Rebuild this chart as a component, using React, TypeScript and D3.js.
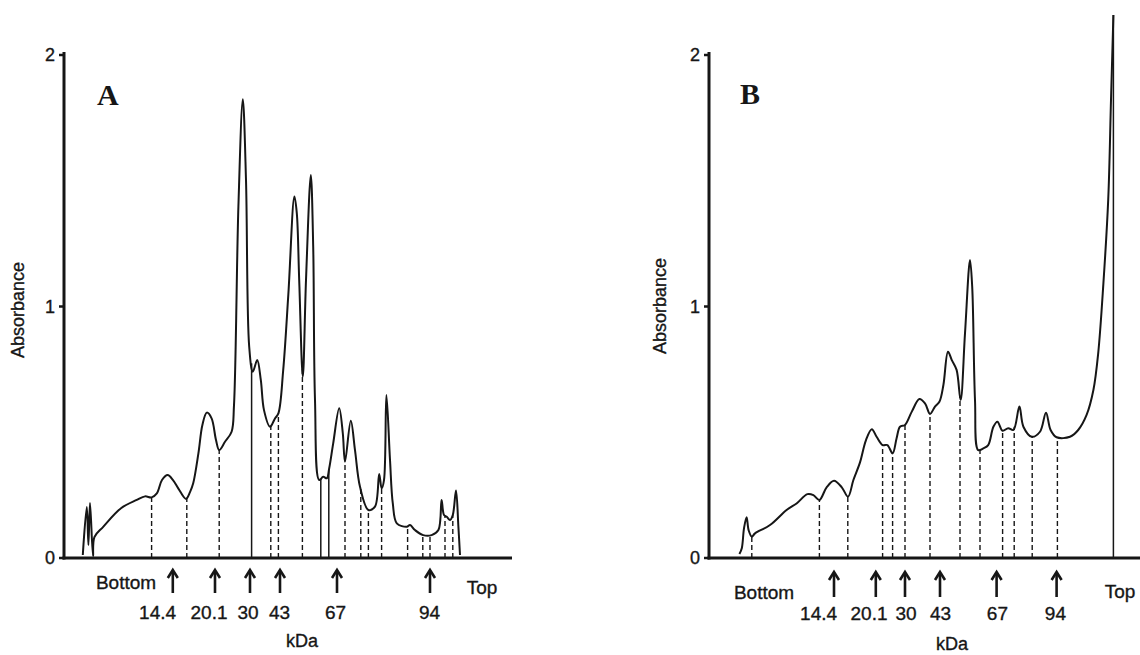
import React from 'react';
import * as d3 from 'd3';

// ---- Panel A trace (position along gel in mm, absorbance) ----
const aPos = [4.7, 5.7, 6.1, 6.5, 7.25, 7.6, 9.8, 14.25, 18.2, 20.25, 21.9, 23.2, 24.5, 25.9, 27.25, 28.6, 30.5, 31.5, 32.3, 33.6, 34.6, 35.7, 36.9, 38, 38.8, 40.25, 41.9, 42.5, 43.6, 44.7, 45.5, 46.3, 47.2, 48.3, 49.2, 50, 51.5, 52.75, 53.6, 54.8, 56.1, 57.6, 58.2, 58.8, 59.7, 60.5, 61.7, 62.3, 62.75, 63.8, 64.8, 65.7, 66.3, 67.3, 68.8, 69.7, 70.25, 71.7, 72.75, 74, 76.1, 77.75, 78.8, 79.4, 80, 80.6, 81.5, 82.2, 83.2, 85.7, 86.5, 87.75, 89.8, 91.9, 93.6, 94.4, 95, 95.7, 96.5, 97.2, 98, 98.6, 99];
const aAbs = [0.012, 0.203, 0.052, 0.219, 0.008, 0.083, 0.124, 0.198, 0.231, 0.245, 0.241, 0.257, 0.31, 0.33, 0.31, 0.276, 0.235, 0.262, 0.297, 0.416, 0.529, 0.578, 0.555, 0.469, 0.429, 0.462, 0.502, 0.608, 1.397, 1.824, 1.503, 0.84, 0.741, 0.787, 0.708, 0.588, 0.522, 0.555, 0.575, 0.747, 1.052, 1.437, 1.371, 1.105, 0.721, 1.105, 1.523, 1.238, 0.628, 0.31, 0.323, 0.317, 0.357, 0.456, 0.595, 0.496, 0.383, 0.546, 0.429, 0.283, 0.191, 0.204, 0.334, 0.277, 0.31, 0.648, 0.39, 0.217, 0.138, 0.124, 0.131, 0.111, 0.091, 0.091, 0.111, 0.231, 0.171, 0.164, 0.151, 0.171, 0.268, 0.124, 0.012];
const aDrops = [21.9, 30.7, 38.8, 46.9, 51.7, 53.6, 59.6, 64.2, 66.2, 70.25, 74.2, 76.1, 79.4, 85.9, 89.7, 91.5, 95.25, 97.2];
const aSolidDrops = [46.9, 64.2, 66.2];
const aMarkers = [27.2, 37.75, 46.5, 54, 68.25, 91.5];
const aLabelPos = [23.4, 36.25, 46, 53.9, 67.9, 91.4];
const aEnds = [15.5, 104.5];

// ---- Panel B trace ----
const bPos = [7.6, 8.2, 8.75, 9.4, 9.9, 10.7, 11.5, 15.25, 19.4, 21.9, 24.6, 26.1, 27.6, 29.4, 31.25, 33.2, 34.75, 36.1, 37.75, 39.25, 40.7, 41.9, 43.4, 44.6, 45.9, 46.9, 47.75, 49, 50.7, 52.6, 54, 55.25, 56.5, 57.6, 58.6, 59.75, 60.7, 61.9, 62.9, 64, 65.25, 65.8, 66.5, 67.3, 68.6, 69.8, 71.1, 72.1, 73.4, 74.8, 76.1, 77.6, 78.6, 80.7, 82.75, 84.25, 85.4, 86.9, 90.25, 92.3, 94.4, 96.1, 97.3, 98.6, 99.8, 100.5, 101.1];
const bAbs = [0.016, 0.039, 0.118, 0.162, 0.111, 0.085, 0.098, 0.131, 0.191, 0.217, 0.254, 0.25, 0.231, 0.281, 0.307, 0.281, 0.244, 0.31, 0.38, 0.469, 0.512, 0.482, 0.449, 0.449, 0.416, 0.476, 0.522, 0.529, 0.582, 0.632, 0.615, 0.573, 0.602, 0.621, 0.688, 0.82, 0.787, 0.748, 0.628, 0.893, 1.185, 1.079, 0.628, 0.429, 0.436, 0.449, 0.522, 0.542, 0.506, 0.516, 0.509, 0.602, 0.522, 0.482, 0.502, 0.578, 0.509, 0.48, 0.482, 0.509, 0.569, 0.668, 0.814, 1.092, 1.423, 1.821, 2.159];
const bDrops = [10.7, 27.6, 34.7, 43.4, 45.9, 49, 55.25, 62.75, 67.75, 73.4, 76.3, 80.8, 87.1, 101.1];
const bSolidDrops = [101.1];
const bMarkers = [31.25, 41.7, 49, 57.75, 71.9, 86.9];
const bLabelPos = [27.4, 40, 49.25, 57.9, 72.1, 86.6];
const bEnds = [13.75, 102.75];

const markerLabels = ['14.4', '20.1', '30', '43', '67', '94'];
const yTicks = [0, 1, 2];
const endLabels = ['Bottom', 'Top'];

const SANS = '"Liberation Sans", Arial, Helvetica, sans-serif';
const SERIF = '"Liberation Serif", "Times New Roman", serif';

function interp(xs: number[], ys: number[], x: number) {
  if (x <= xs[0]) return ys[0];
  for (let i = 1; i < xs.length; i++) {
    if (x <= xs[i]) {
      const t = (x - xs[i - 1]) / (xs[i] - xs[i - 1] || 1);
      return ys[i - 1] + t * (ys[i] - ys[i - 1]);
    }
  }
  return ys[ys.length - 1];
}

type PanelProps = {
  letter: string;
  pos: number[];
  abs: number[];
  drops: number[];
  solidDrops: number[];
  markers: number[];
  labelPos: number[];
  ends: number[];
  xDomainMax: number;
  x0: number;
  x1: number;
  endY: number[];
  numY: number;
  kdaY: number;
  kdaPos: number;
  arrowTop: number;
  arrowBot: number;
  titleX: number;
  titleY: number;
  letterPos: number;
  letterY: number;
};

function Panel(p: PanelProps) {
  const x = d3.scaleLinear().domain([0, p.xDomainMax]).range([p.x0, p.x1]);
  const y = d3.scaleLinear().domain([0, 2]).range([558, 55]);
  const pts: [number, number][] = p.pos.map((v, i) => [v, p.abs[i]]);
  const line = d3
    .line<[number, number]>()
    .x((d) => x(d[0]))
    .y((d) => y(d[1]))
    .curve(d3.curveCatmullRom.alpha(0.5));
  const ink = '#161616';
  const txt = { fontFamily: SANS, fill: ink, stroke: ink, strokeWidth: 0.35 };
  return (
    <g>
      {/* curve */}
      <path d={line(pts) || ''} fill="none" stroke={ink} strokeWidth={2} strokeLinejoin="round" />
      {/* drop lines */}
      {p.drops.map((d, i) => {
        const solid = p.solidDrops.includes(d);
        return (
          <line
            key={'d' + i}
            x1={x(d)}
            x2={x(d)}
            y1={y(0)}
            y2={y(interp(p.pos, p.abs, d))}
            stroke={ink}
            strokeWidth={solid ? 1.5 : 1.4}
            strokeDasharray={solid ? undefined : '5,3'}
          />
        );
      })}
      {/* axes */}
      <line x1={x(0)} x2={x(0)} y1={y(0) + 1.5} y2={y(2) - 3} stroke={ink} strokeWidth={3} />
      <line x1={x(0) - 1.5} x2={p.x1} y1={y(0)} y2={y(0)} stroke={ink} strokeWidth={3} />
      {yTicks.map((t) => (
        <g key={'t' + t}>
          <line x1={x(0) - 5} x2={x(0)} y1={y(t)} y2={y(t)} stroke={ink} strokeWidth={2.5} />
          <text x={x(0) - 9} y={y(t) + 6} textAnchor="end" fontSize={18} {...txt}>
            {t}
          </text>
        </g>
      ))}
      {/* panel letter */}
      <text x={x(p.letterPos)} y={p.letterY} fontFamily={SERIF} fontWeight={700} fontSize={30} fill={ink}>
        {p.letter}
      </text>
      {/* y title */}
      <text
        transform={`translate(${p.titleX},${p.titleY}) rotate(-90)`}
        textAnchor="middle"
        fontSize={18}
        {...txt}
      >
        Absorbance
      </text>
      {/* marker arrows */}
      {p.markers.map((m, i) => (
        <g key={'m' + i}>
          <line x1={x(m)} x2={x(m)} y1={p.arrowTop + 1} y2={p.arrowBot} stroke={ink} strokeWidth={2.6} />
          <path
            d={`M${x(m) - 5},${p.arrowTop + 8} L${x(m)},${p.arrowTop} L${x(m) + 5},${p.arrowTop + 8}`}
            fill="none"
            stroke={ink}
            strokeWidth={2.6}
          />
        </g>
      ))}
      {p.labelPos.map((l, i) => (
        <text key={'l' + i} x={x(l)} y={p.numY} textAnchor="middle" fontSize={19} {...txt}>
          {markerLabels[i]}
        </text>
      ))}
      {p.ends.map((e, i) => (
        <text key={'e' + i} x={x(e)} y={p.endY[i]} textAnchor="middle" fontSize={19} {...txt}>
          {endLabels[i]}
        </text>
      ))}
      <text x={x(p.kdaPos)} y={p.kdaY} textAnchor="middle" fontSize={18} {...txt}>
        kDa
      </text>
    </g>
  );
}

export default function App() {
  return (
    <svg
      width={1140}
      height={655}
      viewBox="0 0 1140 655"
      style={{ position: 'absolute', left: 0, top: 0, background: '#fff' }}
    >
      <rect x={0} y={0} width={1140} height={655} fill="#fff" />
      <Panel
        letter="A"
        pos={aPos}
        abs={aAbs}
        drops={aDrops}
        solidDrops={aSolidDrops}
        markers={aMarkers}
        labelPos={aLabelPos}
        ends={aEnds}
        xDomainMax={112}
        x0={64}
        x1={512}
        endY={[589, 594]}
        numY={619}
        kdaY={647}
        kdaPos={59.5}
        arrowTop={570}
        arrowBot={593}
        titleX={24}
        titleY={310}
        letterPos={8.25}
        letterY={105}
      />
      <Panel
        letter="B"
        pos={bPos}
        abs={bAbs}
        drops={bDrops}
        solidDrops={bSolidDrops}
        markers={bMarkers}
        labelPos={bLabelPos}
        ends={bEnds}
        xDomainMax={108}
        x0={709}
        x1={1141}
        endY={[599, 598]}
        numY={620}
        kdaY={650}
        kdaPos={60.75}
        arrowTop={572}
        arrowBot={597}
        titleX={666}
        titleY={306}
        letterPos={7.75}
        letterY={104}
      />
    </svg>
  );
}
